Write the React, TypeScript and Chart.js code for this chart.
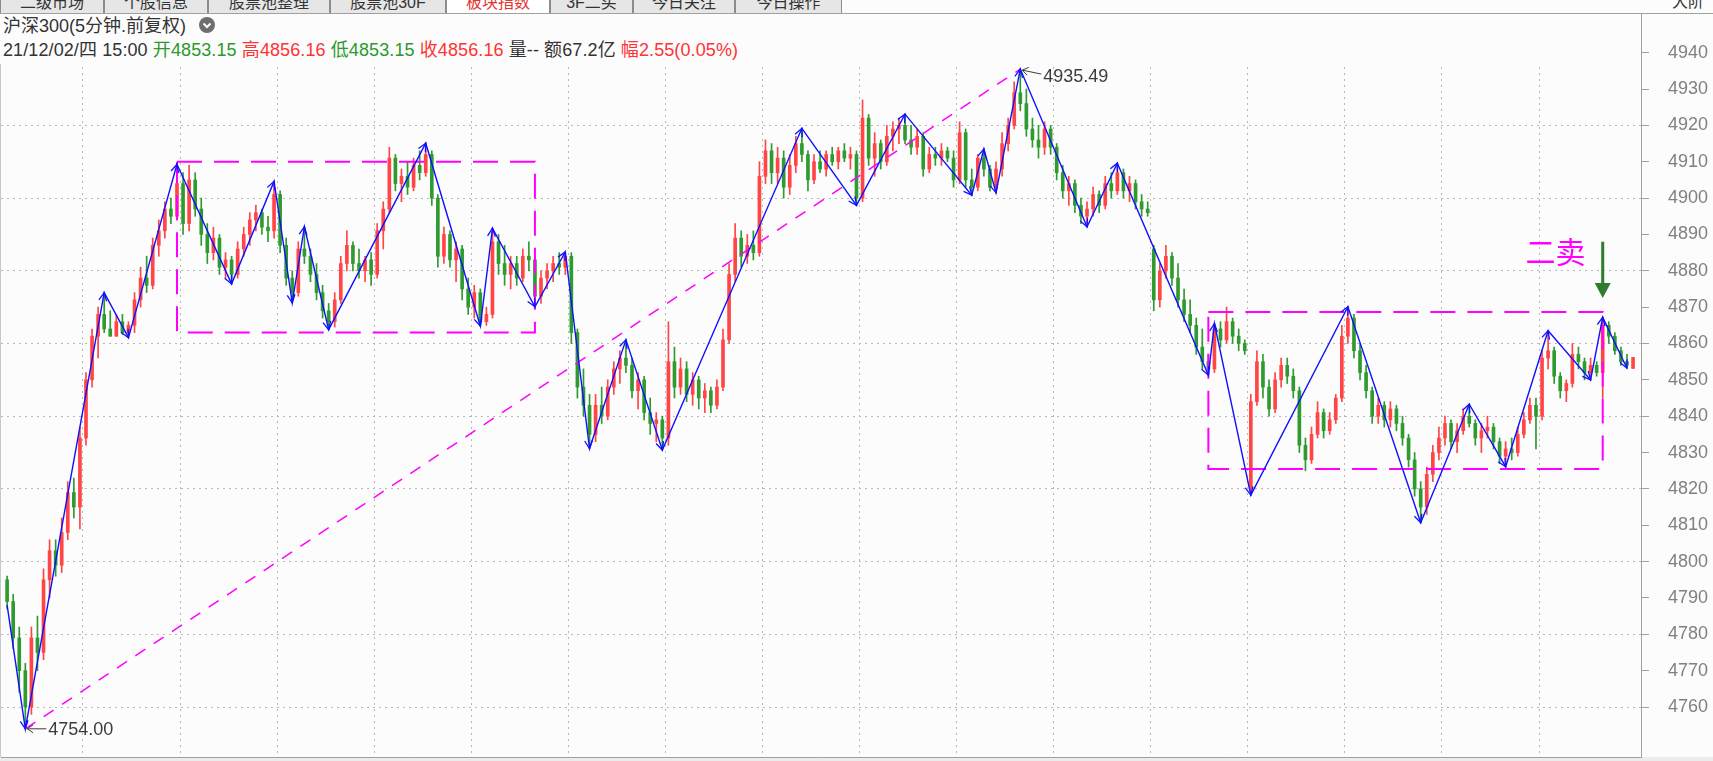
import React, { useEffect, useRef } from 'react';
import { Chart, registerables } from 'chart.js';

Chart.register(...registerables);

// ---------------- data (15-minute candles, index 0..268) ----------------
const opens = [
  4795,4789,4779,4770,4760,4779,4775,4795,4803,4799,4808,4819,4815,
  4834,4850,4862,4868,4864,4862,4866,4863,4865,4872,4878,4876,4887,4891,4897,4895,
  4904,4893,4905,4897,4890,4885,4889,4881,4883,4879,4886,4890,4894,4896,4892,4891,
  4901,4887,4878,4874,4886,4884,4879,4874,4869,4866,4872,4882,4887,4882,4880,4883,
  4879,4891,4897,4911,4904,4906,4903,4909,4907,4912,4900,4884,4890,4883,4886,4875,
  4870,4874,4866,4868,4888,4882,4879,4882,4878,4884,4883,4873,4878,4880,4882,4881,
  4884,4863,4848,4843,4835,4843,4840,4848,4853,4856,4854,4847,4850,4841,4838,4839,
  4834,4855,4848,4853,4846,4850,4845,4847,4843,4848,4861,4879,4889,4884,4887,4885,
  4906,4913,4907,4911,4903,4909,4915,4912,4905,4910,4908,4912,4910,4913,4911,4912,
  4900,4922,4911,4915,4910,4917,4919,4920,4916,4914,4917,4908,4912,4911,4913,4911,
  4905,4918,4905,4903,4911,4908,4903,4908,4915,4920,4929,4926,4919,4916,4914,4919,
  4914,4907,4902,4904,4898,4895,4897,4901,4898,4904,4902,4907,4902,4904,4899,4897,
  4886,4872,4880,4884,4878,4872,4868,4865,4859,4855,4853,4864,4861,4866,4862,4860,
  4820,4844,4855,4848,4842,4850,4854,4851,4847,4832,4828,4835,4841,4836,4839,4845,
  4862,4867,4858,4852,4847,4840,4843,4839,4842,4838,4834,4828,4820,4815,4824,4830,
  4834,4838,4833,4836,4840,4838,4834,4836,4837,4833,4829,4831,4830,4835,4839,4843,
  4840,4856,4858,4851,4847,4849,4857,4855,4852,4854,4852,4865,4862,4858,4855,4853.15,
];
const highs = [
  4796,4791,4782,4772,4782,4785,4798,4806,4806,4812,4822,4823,4837,
  4852,4864,4870,4874,4869,4868,4868,4866,4874,4881,4884,4889,4894,4899,4900,4909.3,
  4907,4909,4907,4900,4893,4892,4890,4885,4884,4888,4892,4896,4898,4897,4895,4904.6,
  4902,4889,4880,4888,4892.1,4886,4882,4876,4871,4874,4884,4891,4888,4886,4884,4885,
  4893,4899,4914,4912,4908,4910,4911,4913,4915.1,4913,4901,4892,4891,4888,4887,4878,
  4876,4875,4870,4891.7,4890,4887,4884,4884,4886,4888,4884,4880,4882,4884,4885,4885.2,
  4885,4864,4853,4846,4846,4848,4850,4855,4858,4861,4856,4852,4851,4845,4841,4840,
  4866,4859,4856,4855,4852,4851,4849,4848,4850,4864,4882,4893,4891,4890,4891,4910,
  4916,4915,4914,4913,4912,4917,4919.2,4913,4912,4913,4913,4914,4914,4915,4914,4913,
  4927,4923,4918,4916,4920,4921,4922,4923.1,4920,4919,4918,4914,4914,4915,4914,4913,
  4921,4919,4908,4912,4913.5,4909,4910,4918,4922,4932,4935.49,4930,4922,4920,4921,4920,
  4915,4909,4906,4905,4900,4899,4903,4902,4906,4907,4909.6,4908,4906,4905,4901,4899,
  4887,4882,4887,4885,4882,4875,4872,4867,4864,4857,4865.5,4866,4870,4867,4864,4861,
  4846,4858,4857,4850,4852,4856,4856,4853,4848,4834,4837,4844,4842,4841,4846,4865,
  4870.1,4868,4860,4854,4848,4845,4844,4844,4843,4840,4835,4830,4822,4826,4832,4837,
  4840,4839,4838,4842,4843.3,4839,4838,4840,4838,4834,4833,4834,4837,4841,4845,4845,
  4858,4863.5,4859,4852,4850,4860,4859,4856,4856,4855,4867.2,4866,4863,4859,4857,4856.16,
];
const lows = [
  4787,4776,4764,4754,4758,4770,4773,4790,4796,4797,4806,4812,4809,
  4832,4848,4856,4863,4862,4862,4862.5,4861.6,4863,4870,4874,4875,4884,4889,4893,4894,
  4890,4891,4895,4887,4882,4883,4879,4878,4876.4,4878,4884,4887,4891,4890,4888,4889,
  4885,4876,4871.2,4873,4882,4877,4872,4867,4863.8,4864.5,4871,4880,4880,4878,4877,4876,
  4878,4886,4896,4902,4899,4901,4902,4905,4906,4898,4881,4882,4881,4877,4872,4868,
  4867,4864.8,4865,4867,4879,4876,4875,4876,4877,4880,4870.1,4871,4875,4877,4879,4879,
  4860,4845,4840,4831.1,4833,4838,4839,4846,4849,4852,4845,4842,4839,4835,4833,4830.7,
  4832,4845,4846,4844,4843,4842,4841,4841,4842,4847,4860,4877,4881,4882,4883,4884,
  4904,4904,4904,4900,4901,4907,4910,4902,4904,4907,4906,4909,4908,4910,4908,4898,
  4899,4909,4906,4908,4909,4913,4915,4915,4912,4912,4906,4907,4909,4909,4910,4903,
  4904,4903,4900.8,4902,4906,4902,4901.5,4906,4913,4919,4924,4917,4914,4911,4912,4912,
  4905,4900,4898,4896,4893,4892.1,4895,4896,4897,4900,4901,4900,4899,4897,4895,4895,
  4869,4870,4878,4876,4870,4866,4863,4857,4853,4851.3,4852,4859,4860,4860,4858,4857,
  4818.3,4843,4845,4840,4841,4848,4849,4845,4830,4825,4827,4834,4834,4835,4838,4844,
  4860,4856,4850,4845,4838,4838,4837,4837,4836,4832,4826,4818,4810.7,4813,4822,4828,
  4832,4831,4830,4835,4837,4832,4830,4834,4831,4827,4826.1,4828,4829,4834,4838,4831,
  4839,4853,4849,4845,4844,4848,4853,4850,4850,4851,4845,4860,4857,4854,4853.2,4853.15,
];
const closes = [
  4789,4779,4770,4760,4779,4775,4795,4803,4799,4808,4819,4815,4834,
  4850,4862,4868,4864,4862,4866,4863,4865,4872,4878,4876,4887,4891,4897,4895,4904,
  4893,4905,4897,4890,4885,4889,4881,4883,4879,4886,4890,4894,4896,4892,4891,4901,
  4887,4878,4874,4886,4884,4879,4874,4869,4866,4872,4882,4887,4882,4880,4883,4879,
  4891,4897,4911,4904,4906,4903,4909,4907,4912,4900,4884,4890,4883,4886,4875,4870,
  4874,4866,4868,4888,4882,4879,4882,4878,4884,4883,4873,4878,4880,4882,4881,4884,
  4863,4848,4843,4835,4843,4840,4848,4853,4856,4854,4847,4850,4841,4838,4839,4834,
  4855,4848,4853,4846,4850,4845,4847,4843,4848,4861,4879,4889,4884,4887,4885,4906,
  4913,4907,4911,4903,4909,4915,4912,4905,4910,4908,4912,4910,4913,4911,4912,4900,
  4922,4911,4915,4910,4917,4919,4920,4916,4914,4917,4908,4912,4911,4913,4911,4905,
  4918,4905,4903,4911,4908,4903,4908,4915,4920,4929,4926,4919,4916,4914,4919,4914,
  4907,4902,4904,4898,4895,4897,4901,4898,4904,4902,4907,4902,4904,4899,4897,4896,
  4872,4880,4884,4878,4872,4868,4865,4859,4855,4853,4864,4861,4866,4862,4860,4858,
  4844,4855,4848,4842,4850,4854,4851,4847,4832,4828,4835,4841,4836,4839,4845,4862,
  4867,4858,4852,4847,4840,4843,4839,4842,4838,4834,4828,4820,4815,4824,4830,4834,
  4838,4833,4836,4840,4838,4834,4836,4837,4833,4829,4831,4830,4835,4839,4843,4840,
  4856,4858,4851,4847,4849,4857,4855,4852,4854,4852,4865,4862,4858,4855,4854,4856.16,
];

// day separators (between candles) and price tick labels
const dayBoundaries = [12.5, 28.5, 44.5, 60.5, 76.5, 92.5, 108.5, 124.5, 140.5, 156.5, 172.5, 188.5, 204.5, 220.5, 236.5, 252.5];
const yTickValues = [4760, 4770, 4780, 4790, 4800, 4810, 4820, 4830, 4840, 4850, 4860, 4870, 4880, 4890, 4900, 4910, 4920, 4930, 4940];

// zigzag (pen) vertices
const zzIdx = [0, 3, 16, 20, 28, 37, 44, 47, 49, 53, 69, 78, 80, 87, 92, 96, 102, 108, 131, 140, 148, 159, 161, 163, 167, 178, 183, 198, 199, 205, 221, 233, 241, 247, 254, 261, 263, 267];
const zzVal = [4788, 4754, 4874, 4861.6, 4909.3, 4876.4, 4904.6, 4871.2, 4892.1, 4863.8, 4915.1, 4864.8, 4891.7, 4870.1, 4885.2, 4831.1, 4861, 4830.7, 4919.2, 4898, 4923.1, 4900.8, 4913.5, 4901.5, 4935.49, 4892.1, 4909.6, 4851.3, 4865.5, 4818.3, 4870.1, 4810.7, 4843.3, 4826.1, 4863.5, 4850, 4867.2, 4853.2];

// consolidation boxes and trend line
const box1X = [28, 87];
const box1Y = [4863, 4910];
const box2X = [198, 263];
const box2Y = [4825.5, 4868.7];
const trendX = [3, 167];
const trendY = [4754, 4935.49];

// extreme labels
const markIdx = [3, 167];
const markVal = [4754.0, 4935.49];

// signal
const signalIdx = 263;
const signalTop = 4888;
const signalTip = 4872.5;
const signalText = '二卖';
const signalTextIdx = 255.2;
const signalTextVal = 4885.4;

// header texts
const tabNames = ['二级市场', '个股信息', '股票池整理', '股票池30F', '板块指数', '3F二买', '今日关注', '今日操作'];
const tabEdges = [0, 104, 208, 330, 446, 550, 633, 735, 842];
const activeTab = 4;
const titleText = '沪深300(5分钟.前复权)';
const infoParts: [string, string][] = [
  ['21/12/02/四 15:00 ', '#333333'],
  ['开4853.15 ', '#2a9a2a'],
  ['高4856.16 ', '#ff3333'],
  ['低4853.15 ', '#2a9a2a'],
  ['收4856.16 ', '#ff3333'],
  ['量-- ', '#333333'],
  ['额67.2亿 ', '#333333'],
  ['幅2.55(0.05%)', '#ff3333'],
];

// pixel calibration of the reference layout (style)
const PLOT_TOP = 13;
const PLOT_BOTTOM = 757;
const Y_REF_HI = { v: 4940, px: 52.7 };
const Y_REF_LO = { v: 4760, px: 707 };
const X_REF = { x0: 6.12, step: 6.0706 };

const RED = '#ff4545';
const GREEN = '#2f9a2f';
const MAGENTA = '#ff00ff';
const BLUE = '#1010ff';

const overlayPlugin = {
  id: 'overlay',
  afterDatasetsDraw(chart: any) {
    const { ctx } = chart;
    const xs = chart.scales.x;
    const ys = chart.scales.y;
    ctx.save();
    ctx.strokeStyle = BLUE;
    ctx.lineWidth = 1.3;
    for (let k = 1; k < zzIdx.length; k++) {
      const x0 = xs.getPixelForValue(zzIdx[k - 1]);
      const y0 = ys.getPixelForValue(zzVal[k - 1]);
      const x1 = xs.getPixelForValue(zzIdx[k]);
      const y1 = ys.getPixelForValue(zzVal[k]);
      const a = Math.atan2(y1 - y0, x1 - x0);
      const L = 9;
      const s = 0.45;
      ctx.beginPath();
      ctx.moveTo(x1 - L * Math.cos(a - s), y1 - L * Math.sin(a - s));
      ctx.lineTo(x1, y1);
      ctx.lineTo(x1 - L * Math.cos(a + s), y1 - L * Math.sin(a + s));
      ctx.stroke();
    }
    ctx.fillStyle = '#3c3c3c';
    ctx.strokeStyle = '#3c3c3c';
    ctx.lineWidth = 1;
    ctx.font = '18px "Liberation Sans"';
    ctx.textBaseline = 'middle';
    ctx.textAlign = 'left';
    markIdx.forEach((m, k) => {
      const px = xs.getPixelForValue(m);
      const py = ys.getPixelForValue(markVal[k]);
      const isLow = k === 0;
      const sx = px + 2, sy = py + (isLow ? 0 : 1);
      const ex = px + 21, ey = py + (isLow ? 0 : 5);
      const a = Math.atan2(sy - ey, sx - ex);
      ctx.beginPath();
      ctx.moveTo(ex, ey);
      ctx.lineTo(sx, sy);
      ctx.moveTo(sx - 7 * Math.cos(a - 0.6), sy - 7 * Math.sin(a - 0.6));
      ctx.lineTo(sx, sy);
      ctx.lineTo(sx - 7 * Math.cos(a + 0.6), sy - 7 * Math.sin(a + 0.6));
      ctx.stroke();
      ctx.fillText(markVal[k].toFixed(2), px + 23, py + (isLow ? 1 : 8));
    });
    const ax = xs.getPixelForValue(signalIdx);
    const at = ys.getPixelForValue(signalTop);
    const ab = ys.getPixelForValue(signalTip);
    ctx.fillStyle = '#2e7d2e';
    ctx.fillRect(ax - 1.5, at, 3, ab - at - 14);
    ctx.beginPath();
    ctx.moveTo(ax - 8, ab - 15);
    ctx.lineTo(ax + 8, ab - 15);
    ctx.lineTo(ax, ab);
    ctx.closePath();
    ctx.fill();
    ctx.fillStyle = MAGENTA;
    ctx.font = '30px "Noto Sans CJK SC"';
    ctx.textAlign = 'center';
    ctx.fillText(signalText, xs.getPixelForValue(signalTextIdx), ys.getPixelForValue(signalTextVal));
    ctx.restore();
  },
};

export default function App() {
  const ref = useRef<HTMLCanvasElement>(null);
  useEffect(() => {
    document.body.style.margin = '0';
    const canvas = ref.current as HTMLCanvasElement;
    const colors = closes.map((c, i) => (c >= opens[i] ? RED : GREEN));
    const wicks = lows.map((l, i) => ({ x: i, y: [l, highs[i]] }));
    const bodies = opens.map((o, i) => ({ x: i, y: [o, closes[i]] }));
    const rect = (bx: number[], by: number[]) => [
      { x: bx[0], y: by[1] }, { x: bx[1], y: by[1] }, { x: bx[1], y: by[0] }, { x: bx[0], y: by[0] }, { x: bx[0], y: by[1] },
    ];
    const lineBase = { type: 'line', pointRadius: 0, fill: false, tension: 0 };
    const chart = new Chart(canvas, {
      type: 'bar',
      data: {
        datasets: [
          { type: 'bar', data: wicks, backgroundColor: colors, barThickness: 1, grouped: false, order: 6 },
          { type: 'bar', data: bodies, backgroundColor: colors, barThickness: 3, grouped: false, minBarLength: 1, order: 5 },
          { ...lineBase, data: rect(box1X, box1Y), borderColor: MAGENTA, borderWidth: 2, borderDash: [25, 12], order: 3 },
          { ...lineBase, data: rect(box2X, box2Y), borderColor: MAGENTA, borderWidth: 2, borderDash: [25, 12], order: 3 },
          { ...lineBase, data: trendX.map((v, k) => ({ x: v, y: trendY[k] })), borderColor: MAGENTA, borderWidth: 1.5, borderDash: [12, 10], order: 2 },
          { ...lineBase, data: zzIdx.map((v, k) => ({ x: v, y: zzVal[k] })), borderColor: BLUE, borderWidth: 1.4, order: 1 },
        ] as any,
      },
      options: {
        animation: false,
        responsive: false,
        devicePixelRatio: 1,
        events: [],
        layout: { padding: { top: PLOT_TOP, bottom: 761 - PLOT_BOTTOM, left: 0, right: 0 } },
        plugins: { legend: { display: false }, tooltip: { enabled: false } },
        scales: {
          x: {
            type: 'linear',
            min: -1.0,
            max: 269.3,
            offset: false,
            afterBuildTicks: (s: any) => { s.ticks = dayBoundaries.map((v) => ({ value: v })); },
            afterFit: (s: any) => { s.height = 0; s.paddingLeft = 0; s.paddingRight = 0; },
            ticks: { display: false },
            grid: { color: '#b8b8b8', drawTicks: false, lineWidth: 1, offset: false },
            border: { display: true, color: '#a0a0a0', dash: [2, 4] },
          },
          y: {
            type: 'linear',
            position: 'right',
            min: 4746.24,
            max: 4950.97,
            afterBuildTicks: (s: any) => { s.ticks = yTickValues.map((v) => ({ value: v })); },
            afterFit: (s: any) => { s.width = 72; s.paddingTop = 0; s.paddingBottom = 0; },
            ticks: { color: '#808080', font: { family: 'Liberation Sans', size: 18 }, padding: 19, autoSkip: false, callback: (v: any) => String(v) },
            grid: {
              color: (c: any) => (c.tick && c.tick.value % 20 === 0 && c.tick.value <= 4920 ? '#b8b8b8' : 'rgba(0,0,0,0)'),
              tickColor: '#a0a0a0',
              tickLength: 8,
              lineWidth: 1,
              offset: false,
            },
            border: { display: true, color: '#a0a0a0', dash: [2, 4] },
          },
        },
      } as any,
      plugins: [overlayPlugin],
    });
    // calibrate the value ranges to the actual plot area so the scales match the reference
    const ca = chart.chartArea;
    const ppv = (Y_REF_LO.px - Y_REF_HI.px) / (Y_REF_HI.v - Y_REF_LO.v);
    const so: any = chart.options.scales;
    so.y.min = Y_REF_LO.v - (ca.bottom - Y_REF_LO.px) / ppv;
    so.y.max = Y_REF_HI.v + (Y_REF_HI.px - ca.top) / ppv;
    so.x.min = (ca.left - X_REF.x0) / X_REF.step;
    so.x.max = (ca.right - X_REF.x0) / X_REF.step;
    chart.update();
    return () => chart.destroy();
  }, []);

  const font = '"Liberation Sans","Noto Sans CJK SC",sans-serif';
  return (
    <div style={{ position: 'fixed', left: 0, top: 0, width: 1713, height: 761, background: '#fcfcfc', overflow: 'hidden', fontFamily: font }}>
      <div style={{ position: 'absolute', left: 0, top: 13, width: 1, height: 744, background: '#c8c8c8' }} />
      <div style={{ position: 'absolute', left: 0, top: 757, width: 1713, height: 4, background: '#ececec' }} />
      <canvas ref={ref} width={1713} height={761} style={{ position: 'absolute', left: 0, top: 0, display: 'block' }} />
      <div style={{ position: 'absolute', left: 0, top: 0, width: 1713, height: 13, borderBottom: '1px solid #a0a0a0', overflow: 'hidden', background: '#fcfcfc' }}>
        {tabNames.map((t, i) => (
          <div key={t} style={{
            position: 'absolute', left: tabEdges[i], width: tabEdges[i + 1] - tabEdges[i], top: -9, height: 24, boxSizing: 'border-box',
            border: '1px solid #8c8c8c', background: i === activeTab ? '#ffffff' : '#e6e6e6', color: i === activeTab ? '#e83030' : '#333333',
            fontSize: 16, lineHeight: '22px', textAlign: 'center', whiteSpace: 'nowrap',
          }}>{t}</div>
        ))}
        <div style={{ position: 'absolute', left: 1672, top: -9, height: 24, fontSize: 16, lineHeight: '22px', color: '#333', whiteSpace: 'nowrap' }}>大阶</div>
      </div>
      <div style={{ position: 'absolute', left: 0, top: 14, width: 1640, height: 50, background: '#fcfcfc' }}>
        <div style={{ position: 'absolute', left: 3, top: 2, height: 20, fontSize: 18, lineHeight: '20px', color: '#333', whiteSpace: 'nowrap' }}>{titleText}</div>
        <svg style={{ position: 'absolute', left: 199, top: 3 }} width={16} height={16} viewBox="0 0 16 16">
          <circle cx={8} cy={8} r={8} fill="#6e6e6e" />
          <polyline points="4.5,6.5 8,10 11.5,6.5" fill="none" stroke="#ffffff" strokeWidth={2} />
        </svg>
        <div style={{ position: 'absolute', left: 3, top: 26, height: 20, fontSize: 18, lineHeight: '20px', letterSpacing: '0.1px', whiteSpace: 'nowrap' }}>
          {infoParts.map(([t, c], i) => (<span key={i} style={{ color: c }}>{t}</span>))}
        </div>
      </div>
    </div>
  );
}
